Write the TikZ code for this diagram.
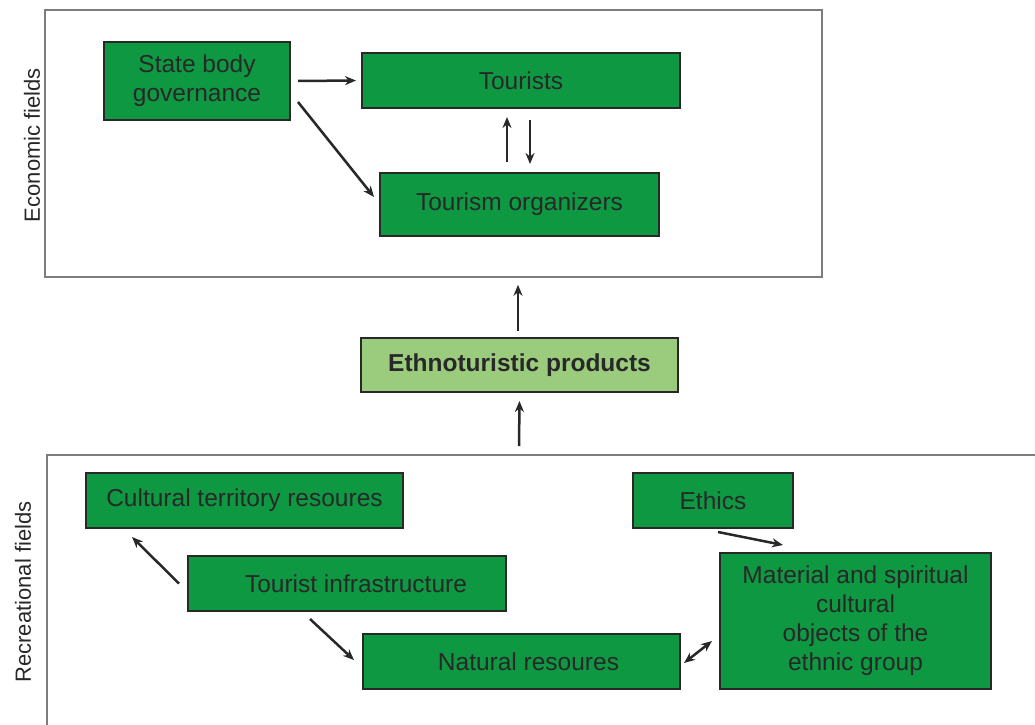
\documentclass[tikz,border=0pt]{standalone}
\usepackage{fontspec}
\setmainfont{Liberation Sans}
\usetikzlibrary{arrows.meta,calc}
\definecolor{boxgreen}{RGB}{14,152,66}
\definecolor{lightgreen}{RGB}{155,204,126}
\definecolor{ink}{RGB}{40,40,40}
\definecolor{framegray}{RGB}{125,125,125}
\tikzset{
  gbox/.style={draw=ink, line width=2pt, fill=boxgreen, inner sep=0pt, align=center,
    text=ink, font=\fontsize{24.5}{29}\selectfont},
  lbox/.style={gbox, fill=lightgreen, font=\fontsize{24.5}{29}\selectfont\bfseries},
  frame/.style={draw=framegray, line width=1.6pt, inner sep=0pt},
  sidelabel/.style={rotate=90, text=ink, font=\fontsize{22}{26}\selectfont},
  arr/.style={draw=ink, line width=2.5pt, -{Stealth[length=11pt,width=9pt]}},
  darr/.style={draw=ink, line width=2.5pt, {Stealth[length=11pt,width=9pt]}-{Stealth[length=11pt,width=9pt]}}
}
\begin{document}
\begin{tikzpicture}[x=1pt,y=-1pt]
\useasboundingbox (0,0) rectangle (1035,724);
\clip (0,0) rectangle (1035,724);
\fill[white] (0,0) rectangle (1035,724);
% frames
\node[frame, minimum width=777pt, minimum height=267pt] (econ) at (433.5,143.5) {};
\node[frame, minimum width=1013pt, minimum height=285pt] (recr) at (553.5,597.5) {};
\node[sidelabel] (econlab) at (32,145) {Economic fields};
\node[sidelabel] (recrlab) at (23,592) {Recreational fields};
% economic boxes
\node[gbox, minimum width=186pt, minimum height=78pt] (state) at (197,81) {State body\\governance};
\node[gbox, minimum width=318pt, minimum height=55pt] (tour) at (521,80.5) {Tourists};
\node[gbox, minimum width=279pt, minimum height=63pt] (org) at (519.5,204.5) {Tourism organizers};
% middle
\node[lbox, minimum width=317pt, minimum height=54pt] (ethno) at (519.5,365) {Ethnoturistic products};
% recreational boxes
\node[gbox, minimum width=317pt, minimum height=55pt] (ctr) at (244.5,500.5) {Cultural territory resoures};
\node[gbox, minimum width=318pt, minimum height=55pt] (infra) at (347,583.5) {\hspace*{18pt}Tourist infrastructure};
\node[gbox, minimum width=317pt, minimum height=55pt] (nat) at (521.5,661.5) {\hspace*{14pt}Natural resoures};
\node[gbox, minimum width=160pt, minimum height=55pt] (ethics) at (713,500.5) {Ethics};
\node[gbox, minimum width=271pt, minimum height=136pt] (mat) at (855.5,621) {Material and spiritual\\cultural\\objects of the\\ethnic group};
% arrows
\draw[arr, shorten <=7pt, shorten >=5pt] (state.east) -- (tour.west);
\draw[arr] ($(state.east)+(7,21)$) -- ($(org.west)+(-5,-7.5)$);
\draw[arr] ($(org.north)+(-12.5,-10)$) -- ($(tour.south)+(-14,8)$);
\draw[arr] ($(tour.south)+(9,11)$) -- ($(org.north)+(10.5,-8)$);
\draw[arr] ($(ethno.north)+(-1.5,-6)$) -- ($(econ.south)+(84.5,7)$);
\draw[arr] ($(recr.north)+(-34.5,-8)$) -- ($(ethno.south)+(0,8)$);
\draw[arr] ($(infra.west)+(-8,0)$) -- ($(ctr.south west)+(47,8)$);
\draw[arr] ($(infra.south)+(-37,7)$) -- ($(nat.west)+(-8,-1.5)$);
\draw[arr] ($(ethics.south)+(5,3)$) -- ($(mat.north)+(-72.5,-7)$);
\draw[darr] ($(nat.east)+(3,1.5)$) -- ($(mat.west)+(-7,20)$);
\end{tikzpicture}
\end{document}
